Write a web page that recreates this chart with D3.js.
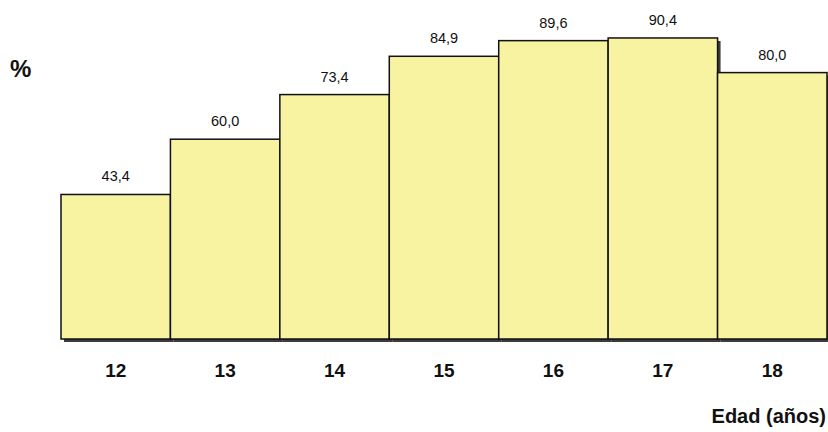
<!DOCTYPE html>
<html>
<head>
<meta charset="utf-8">
<script src="https://cdn.jsdelivr.net/npm/d3@7"></script>
<style>
  body { margin: 0; background: #fff; }
  text { font-family: Arial, "Liberation Sans", sans-serif; }
</style>
</head>
<body>
<script>
const ages = ["12", "13", "14", "15", "16", "17", "18"];
const values = [43.4, 60.0, 73.4, 84.9, 89.6, 90.4, 80.0];

const width = 828, height = 432;
const margin = { left: 61, right: 1, top: 6, bottom: 93 };

const svg = d3.select("body").append("svg")
  .attr("width", width)
  .attr("height", height);

const x = d3.scaleBand()
  .domain(ages)
  .range([margin.left, width - margin.right])
  .padding(0);

const y = d3.scaleLinear()
  .domain([0, 100])
  .range([height - margin.bottom, margin.top]);

const fmt = v => d3.format(".1f")(v).replace(".", ",");

// shadow behind bars
svg.append("g")
  .selectAll("rect")
  .data(values)
  .enter()
  .append("rect")
  .attr("x", (d, i) => x(ages[i]) + 3)
  .attr("y", d => y(d) + 3)
  .attr("width", x.bandwidth())
  .attr("height", d => y(0) - y(d))
  .attr("fill", "#1a1a1a")
  .attr("opacity", 0.85);

svg.append("g")
  .selectAll("rect")
  .data(values)
  .enter()
  .append("rect")
  .attr("x", (d, i) => x(ages[i]))
  .attr("y", d => y(d))
  .attr("width", x.bandwidth())
  .attr("height", d => y(0) - y(d))
  .attr("fill", "#f8f3a0")
  .attr("stroke", "#111")
  .attr("stroke-width", 1.5);

// value labels
svg.append("g")
  .selectAll("text")
  .data(values)
  .enter()
  .append("text")
  .attr("x", (d, i) => x(ages[i]) + x.bandwidth() / 2)
  .attr("y", d => y(d) - 13)
  .attr("text-anchor", "middle")
  .attr("font-size", 14.5)
  .attr("fill", "#111")
  .text(fmt);

// category axis labels
const xAxis = svg.append("g")
  .attr("transform", `translate(0,${y(0)})`)
  .call(d3.axisBottom(x).tickSize(0).tickPadding(25));
xAxis.select(".domain").remove();
xAxis.selectAll("text")
  .attr("font-size", 19)
  .attr("font-weight", "bold")
  .attr("font-family", "Arial, 'Liberation Sans', sans-serif")
  .attr("fill", "#111");

svg.append("text")
  .attr("x", 10)
  .attr("y", 77)
  .attr("font-size", 24)
  .attr("font-weight", "bold")
  .attr("fill", "#111")
  .text("%");

svg.append("text")
  .attr("x", 826)
  .attr("y", 423)
  .attr("text-anchor", "end")
  .attr("font-size", 20)
  .attr("font-weight", "bold")
  .attr("fill", "#111")
  .text("Edad (años)");
</script>
</body>
</html>
